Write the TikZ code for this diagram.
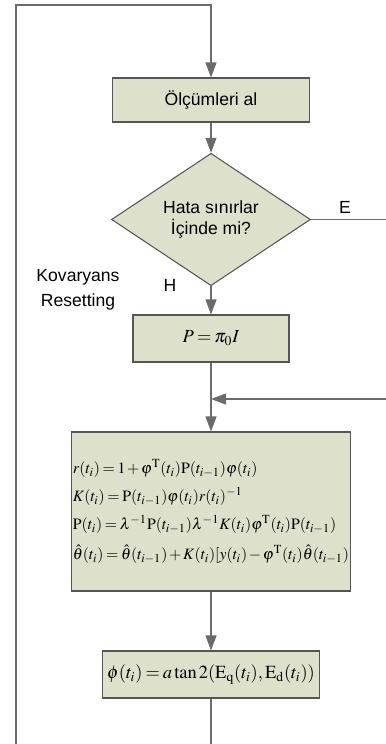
\documentclass[tikz,border=0pt]{standalone}
\usepackage{mathptmx}
\usepackage[no-math]{fontspec}
\setsansfont{Liberation Sans}
\usetikzlibrary{arrows.meta, shapes.geometric}
\definecolor{cfill}{HTML}{DDE1CC}
\definecolor{cedge}{HTML}{555555}
\definecolor{cline}{HTML}{6B6B6B}
\tikzset{
  every picture/.style={font=\sffamily\fontsize{10}{11.5}\selectfont, line width=0.6pt},
  box/.style={draw=cedge, fill=cfill, align=center, inner sep=1pt},
  arrow/.style={-{Triangle[length=3mm, width=2.2mm]}, draw=cline, line width=0.6pt},
  wire/.style={draw=cline, line width=0.6pt},
  note/.style={font=\sffamily\fontsize{10}{14}\selectfont, align=center},
}
\medmuskip=2mu
\thickmuskip=3mu

\begin{document}
\begin{tikzpicture}[x=0.2mm, y=-0.2mm,
  eq/.style={box, align=left, font=\fontsize{9}{11}\selectfont}]
  \useasboundingbox (0,0) rectangle (386,744);
  \node[box, minimum width=39.4mm, minimum height=8.8mm] (meas) at (211,100) {Ölçümleri al};
  \node[box, diamond, minimum width=39.8mm, minimum height=17.4mm, inner sep=0pt] (check) at (211,219.5) {Hata sınırlar\\İçinde mi?};
  \node[box, minimum width=31.2mm, minimum height=9.4mm, font=\fontsize{10.5}{12}\selectfont] (reset) at (211,338.5) {$P=\pi_0 I$};
  \node[eq, minimum width=55.2mm, minimum height=31.8mm] (rls) at (211,511.5) {%
    $r(t_i)=1+\varphi^{\mathrm{T}}(t_i)\mathrm{P}(t_{i-1})\varphi(t_i)$\\[5pt]
    $K(t_i)=\mathrm{P}(t_{i-1})\varphi(t_i)r(t_i)^{-1}$\\[5pt]
    $\mathrm{P}(t_i)=\lambda^{-1}\mathrm{P}(t_{i-1})\lambda^{-1}K(t_i)\varphi^{\mathrm{T}}(t_i)\mathrm{P}(t_{i-1})$\\[6pt]
    $\hat{\theta}(t_i)=\hat{\theta}(t_{i-1})+K(t_i)[y(t_i)-\varphi^{\mathrm{T}}(t_i)\hat{\theta}(t_{i-1})$};
  \node[box, minimum width=43.4mm, minimum height=9.4mm, font=\fontsize{10.5}{12}\selectfont] (angle) at (211,674.5) {$\phi(t_i)=a\tan 2(\mathrm{E}_{\mathrm{q}}(t_i),\mathrm{E}_{\mathrm{d}}(t_i))$};
  \node[note] (yes) at (345,207) {E};
  \node[note] (no) at (170,285) {H};
  \node[note] (resetlbl) at (78,290) {Kovaryans\\Resetting};
  \coordinate (corner) at (16,5);
  \coordinate (leftend) at (16,744);
  \coordinate (yesout) at (386,219.5);
  \coordinate (yesin) at (386,399);
  \coordinate (join) at (211,399);
  \coordinate (bottom) at (211,744);
  % loop back from the bottom
  \draw[arrow] (leftend) -- (corner) -| (meas.north);
  \draw[arrow] (meas) -- (check);
  \draw[wire] (check.east) -- (yesout);
  \draw[arrow] (check) -- (reset);
  \draw[arrow] (reset) -- (rls);
  \draw[arrow] (yesin) -- (join);
  \draw[arrow] (rls) -- (angle);
  \draw[wire] (angle) -- (bottom);
\end{tikzpicture}
\end{document}
